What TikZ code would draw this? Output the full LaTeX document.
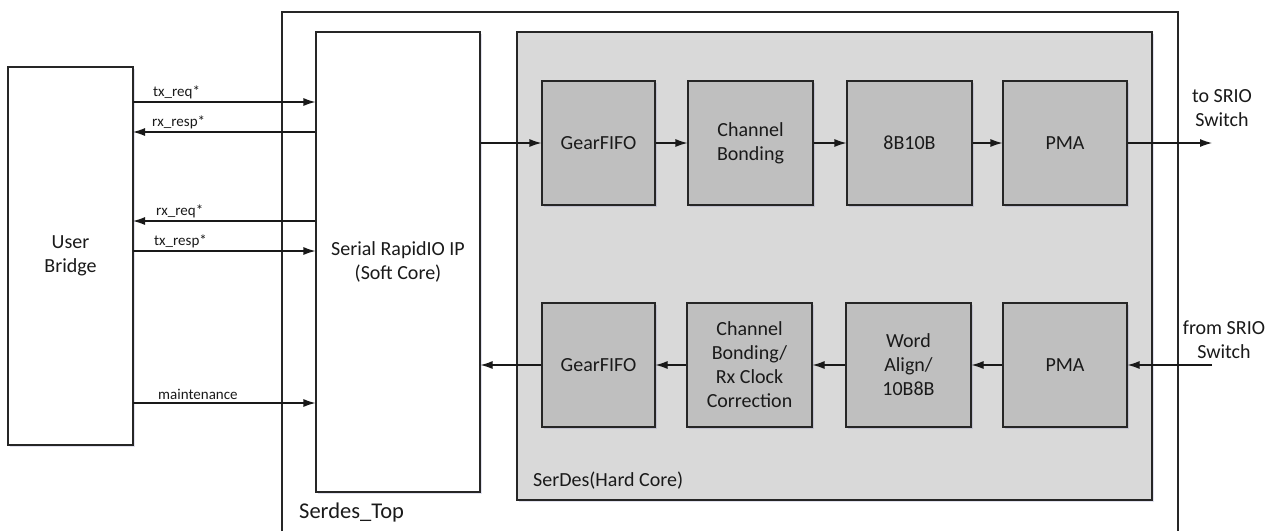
\documentclass[tikz,border=0pt]{standalone}
\usepackage{fontspec}
\setmainfont{Carlito}
\usetikzlibrary{arrows.meta,shadows}
\definecolor{txt}{HTML}{1A1A1A}
\definecolor{serdesfill}{HTML}{D9D9D9}
\definecolor{boxfill}{HTML}{BFBFBF}
\begin{document}
\begin{tikzpicture}[x=1pt,y=-1pt,
  every node/.style={text=txt},
  plainbox/.style={draw=black!85,line width=1.1pt,fill=white,align=center,inner sep=0pt,
    font=\fontsize{20}{24}\selectfont,
    drop shadow={opacity=0.18,shadow xshift=2pt,shadow yshift=-2pt,fill=blue!30!gray}},
  graybox/.style={plainbox,fill=boxfill,minimum height=124pt},
  arr/.style={draw=black!90,line width=1.1pt,-{Latex[length=12pt,width=8pt]}},
  sig/.style={font=\fontsize{15}{17}\selectfont,anchor=south west,inner sep=0pt},
  biglabel/.style={font=\fontsize{20}{24}\selectfont,align=center,inner sep=0pt}
]
\useasboundingbox (0,0) rectangle (1272,531);
\fill[white] (0,0) rectangle (1272,531);

% Serdes_Top outer frame (bottom edge out of view)
\draw[black!85,line width=1.1pt] (282,531) -- (282,12) -- (1178,12) -- (1178,531);
\node[font=\fontsize{22.5}{26}\selectfont,anchor=west,inner sep=0pt] (toplbl) at (299,512) {Serdes\_Top};

% User Bridge
\node[plainbox,minimum width=125pt,minimum height=378pt] (ub) at (70.5,256) {User\\Bridge};
% Serial RapidIO IP
\node[plainbox,minimum width=164pt,minimum height=460pt] (sr) at (398,262) {Serial RapidIO IP\\(Soft Core)};
% SerDes hard core
\node[plainbox,fill=serdesfill,minimum width=635pt,minimum height=468pt] (sd) at (834.5,266) {};
\node[font=\fontsize{20}{24}\selectfont,anchor=west,inner sep=0pt] (sdlbl) at (533,481) {SerDes(Hard Core)};

% Top row
\node[graybox,minimum width=113pt] (g1) at (598.5,143) {GearFIFO};
\node[graybox,minimum width=125pt] (c1) at (750.5,143) {Channel\\Bonding};
\node[graybox,minimum width=125pt] (e1) at (909.5,143) {8B10B};
\node[graybox,minimum width=124pt] (p1) at (1065,143) {PMA};
% Bottom row
\node[graybox,minimum width=113pt] (g2) at (598.5,365) {GearFIFO};
\node[graybox,minimum width=125pt] (c2) at (749.5,365) {Channel\\Bonding/\\Rx Clock\\Correction};
\node[graybox,minimum width=125pt] (w2) at (908.5,365) {Word\\Align/\\10B8B};
\node[graybox,minimum width=124pt] (p2) at (1065,365) {PMA};

% Datapath arrows
\draw[arr] (sr.east |- g1.west) -- (g1.west);
\draw[arr] (g1) -- (c1);
\draw[arr] (c1) -- (e1);
\draw[arr] (e1) -- (p1);
\coordinate (out1) at (1212,143);
\draw[arr] (p1.east) -- (out1);
\node[biglabel] (tolbl) at (1222,108) {to SRIO\\Switch};

\coordinate (in1) at (1212,365);
\draw[arr] (in1) -- (p2.east);
\draw[arr] (p2) -- (w2);
\draw[arr] (w2) -- (c2);
\draw[arr] (c2) -- (g2);
\draw[arr] (g2.west) -- (sr.east |- g2.west);
\node[biglabel] (fromlbl) at (1224,340) {from SRIO\\Switch};

% User-side signals
\coordinate (s1) at (133,102);
\coordinate (s2) at (133,132);
\coordinate (s3) at (133,221);
\coordinate (s4) at (133,251);
\coordinate (s5) at (133,403);
\draw[arr] (s1) -- (s1 -| sr.west);
\draw[arr] (s2 -| sr.west) -- (s2);
\draw[arr] (s3 -| sr.west) -- (s3);
\draw[arr] (s4) -- (s4 -| sr.west);
\draw[arr] (s5) -- (s5 -| sr.west);
\node[sig] (l1) at (153,99) {tx\_req*};
\node[sig] (l2) at (152,129) {rx\_resp*};
\node[sig] (l3) at (156,218) {rx\_req*};
\node[sig] (l4) at (154,248) {tx\_resp*};
\node[sig] (l5) at (158,400) {maintenance};
\end{tikzpicture}
\end{document}
